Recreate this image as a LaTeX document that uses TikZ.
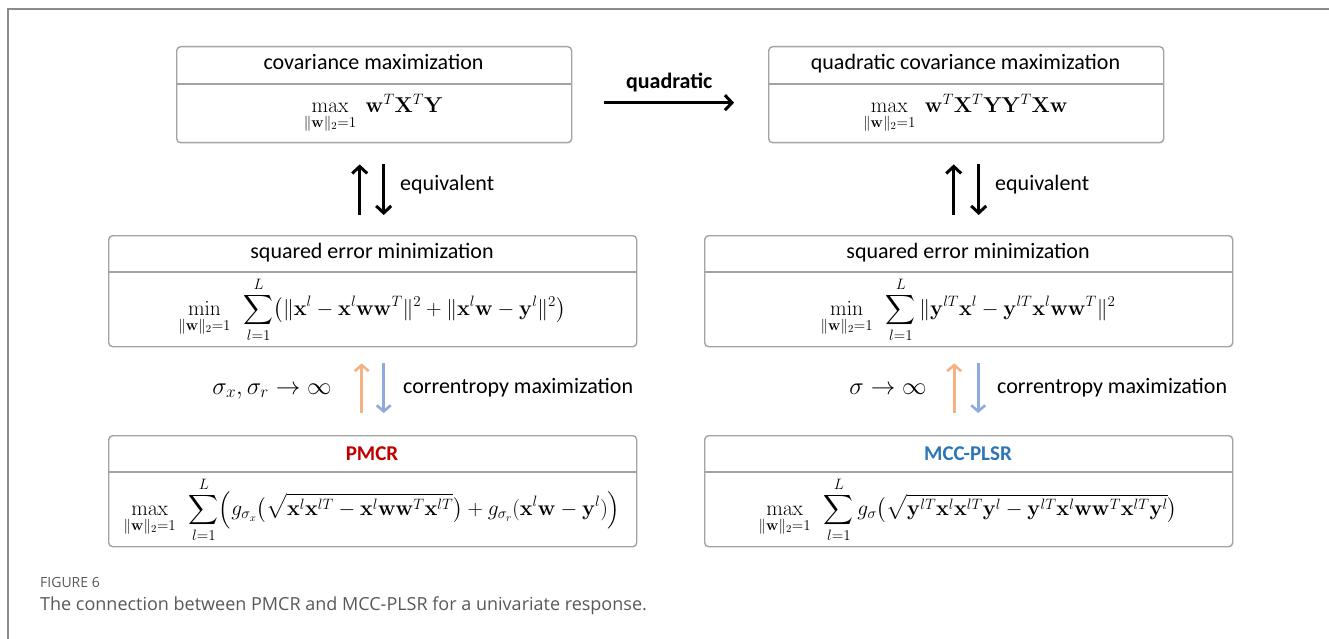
\RequirePackage{fix-cm}
\documentclass[tikz,border=0pt]{standalone}
\usepackage{amsmath}
\usepackage[no-math]{fontspec}
\setmainfont{Carlito}
\newfontfamily\capfont{Open Sans}
\usetikzlibrary{arrows.meta,calc}
\definecolor{boxgray}{HTML}{A3A3A3}
\definecolor{framegray}{HTML}{8C8C8C}
\definecolor{pmcrred}{HTML}{C00000}
\definecolor{mccblue}{HTML}{2E75B6}
\definecolor{arrorange}{HTML}{F4B183}
\definecolor{arrblue}{HTML}{8FAADC}
\definecolor{capgray}{HTML}{585858}
\begin{document}
\begin{tikzpicture}[x=1pt,y=-1pt,
  box/.style={draw=boxgray,line width=1.4pt,rounded corners=4pt,inner sep=0pt,anchor=north west},
  divline/.style={draw=boxgray,line width=1.4pt},
  ttl/.style={font=\fontsize{22}{26}\selectfont,inner sep=0pt,anchor=base},
  ttlb/.style={font=\fontsize{21}{25}\selectfont\bfseries,inner sep=0pt,anchor=base},
  fml/.style={font=\fontsize{21.5}{26}\selectfont,inner sep=0pt,anchor=center},
  lbl/.style={font=\fontsize{22}{26}\selectfont,inner sep=0pt,anchor=base west},
  mlbl/.style={font=\fontsize{24.5}{28}\selectfont,inner sep=0pt,anchor=base},
  blk/.style={line width=3pt,-{Straight Barb[length=7pt,width=15pt]}},
  orng/.style={draw=arrorange,line width=2.6pt,-{Straight Barb[length=6pt,width=14pt]}},
  blu/.style={draw=arrblue,line width=2.6pt,-{Straight Barb[length=6pt,width=14pt]}},
  frame/.style={draw=framegray,line width=2pt}
]
\useasboundingbox (0,0) rectangle (1329,639);
\draw[frame] (8,639) -- (8,9) -- (1329,9);

% boxes
\node[box,minimum width=395pt,minimum height=96pt] (b1) at (176,46) {};
\node[box,minimum width=395pt,minimum height=96pt] (b2) at (768,46) {};
\node[box,minimum width=528pt,minimum height=111pt] (b3) at (108,235) {};
\node[box,minimum width=528pt,minimum height=111pt] (b4) at (704,235) {};
\node[box,minimum width=528pt,minimum height=111pt] (b5) at (108,435) {};
\node[box,minimum width=528pt,minimum height=111pt] (b6) at (704,435) {};

\draw[divline] ([yshift=-38pt]b1.north west) -- ([yshift=-38pt]b1.north east);
\draw[divline] ([yshift=-38pt]b2.north west) -- ([yshift=-38pt]b2.north east);
\draw[divline] ([yshift=-37pt]b3.north west) -- ([yshift=-37pt]b3.north east);
\draw[divline] ([yshift=-37pt]b4.north west) -- ([yshift=-37pt]b4.north east);
\draw[divline] ([yshift=-37pt]b5.north west) -- ([yshift=-37pt]b5.north east);
\draw[divline] ([yshift=-37pt]b6.north west) -- ([yshift=-37pt]b6.north east);

% titles
\node[ttl] (t1) at (373.5,70) {covariance maximization};
\node[ttl] (t2) at (965.5,70) {quadratic covariance maximization};
\node[ttl] (t3) at (372,258.5) {squared error minimization};
\node[ttl] (t4) at (968,258.5) {squared error minimization};
\node[ttlb,text=pmcrred] (t5) at (372,460.5) {PMCR};
\node[ttlb,text=mccblue] (t6) at (968,460.5) {MCC-PLSR};

% formulas
\node[fml] (f1) at (373.5,114) {$\max\limits_{\|\mathbf{w}\|_2=1}\;\mathbf{w}^T\mathbf{X}^T\mathbf{Y}$};
\node[fml] (f2) at (965.5,114) {$\max\limits_{\|\mathbf{w}\|_2=1}\;\mathbf{w}^T\mathbf{X}^T\mathbf{Y}\mathbf{Y}^T\mathbf{X}\mathbf{w}$};
\node[fml] (f3) at (372,310) {$\displaystyle\min\limits_{\|\mathbf{w}\|_2=1}\;\,\sum_{l=1}^{L}\bigl(\|\mathbf{x}^l-\mathbf{x}^l\mathbf{w}\mathbf{w}^T\|^2+\|\mathbf{x}^l\mathbf{w}-\mathbf{y}^l\|^2\bigr)$};
\node[fml] (f4) at (968,310) {$\displaystyle\min\limits_{\|\mathbf{w}\|_2=1}\;\,\sum_{l=1}^{L}\|\mathbf{y}^{lT}\mathbf{x}^l-\mathbf{y}^{lT}\mathbf{x}^l\mathbf{w}\mathbf{w}^T\|^2$};
\node[fml] (f5) at (372,510) {$\displaystyle\max\limits_{\|\mathbf{w}\|_2=1}\;\,\sum_{l=1}^{L}\Bigl(g_{\sigma_x}\bigl(\sqrt{\mathbf{x}^l\mathbf{x}^{lT}-\mathbf{x}^l\mathbf{w}\mathbf{w}^T\mathbf{x}^{lT}}\bigr)+g_{\sigma_r}(\mathbf{x}^l\mathbf{w}-\mathbf{y}^l)\Bigr)$};
\node[fml] (f6) at (968,510) {$\displaystyle\max\limits_{\|\mathbf{w}\|_2=1}\;\,\sum_{l=1}^{L}g_{\sigma}\bigl(\sqrt{\mathbf{y}^{lT}\mathbf{x}^l\mathbf{x}^{lT}\mathbf{y}^l-\mathbf{y}^{lT}\mathbf{x}^l\mathbf{w}\mathbf{w}^T\mathbf{x}^{lT}\mathbf{y}^l}\bigr)$};

% quadratic arrow
\draw[blk] ($(b1.east)+(32,8)$) -- ($(b2.west)+(-34,8)$)
  node[midway,above=9pt,font=\fontsize{22}{26}\selectfont\bfseries,inner sep=0pt] (q) {quadratic};

% equivalent arrows
\draw[blk] ($(b3.north)+(-13,-20)$) -- ($(b1.south)+(-14.5,21)$);
\draw[blk] ($(b1.south)+(9.5,21)$) -- ($(b3.north)+(11,-20)$);
\node[lbl] (e1) at (400,190) {equivalent};
\draw[blk] ($(b4.north)+(-15,-20)$) -- ($(b2.south)+(-12.5,21)$);
\draw[blk] ($(b2.south)+(12.5,21)$) -- ($(b4.north)+(10,-20)$);
\node[lbl] (e2) at (995,190) {equivalent};

% correntropy arrows
\draw[orng] ($(b5.north)+(-11,-22)$) -- ($(b3.south)+(-11,16)$);
\draw[blu] ($(b3.south)+(11,16)$) -- ($(b5.north)+(11,-22)$);
\node[mlbl] (s1) at (272,394) {$\sigma_x,\sigma_r\rightarrow\infty$};
\node[lbl] (c1) at (403,393) {correntropy maximization};
\draw[orng] ($(b6.north)+(-14.5,-22)$) -- ($(b4.south)+(-14.5,16)$);
\draw[blu] ($(b4.south)+(9.5,16)$) -- ($(b6.north)+(9.5,-22)$);
\node[mlbl] (s2) at (888,394) {$\sigma\rightarrow\infty$};
\node[lbl] (c2) at (997,393) {correntropy maximization};

% caption
\node[font=\capfont\fontsize{14}{17}\selectfont,text=capgray,inner sep=0pt,anchor=base west] (fig) at (40,587) {FIGURE 6};
\node[font=\capfont\fontsize{18}{22}\selectfont,text=capgray,inner sep=0pt,anchor=base west] (cap) at (40,610) {The connection between PMCR and MCC-PLSR for a univariate response.};
\end{tikzpicture}
\end{document}
